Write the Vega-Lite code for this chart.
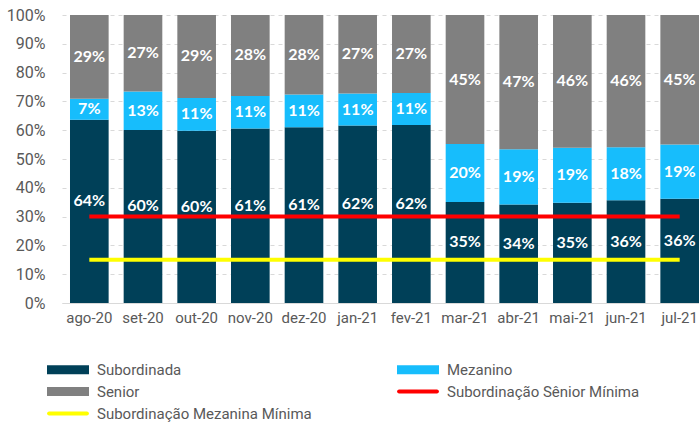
{
  "$schema": "https://vega.github.io/schema/vega-lite/v6.json",
  "width": 637,
  "height": 288,
  "autosize": {"type": "none"},
  "padding": {"left": 62, "top": 15, "right": 0, "bottom": 120},
  "background": "white",
  "config": {
    "view": {"stroke": null},
    "axis": {"labelFont": "Roboto", "labelColor": "#595959", "labelFontSize": 16, "title": null}
  },
  "resolve": {"axis": {"y": "independent"}},
  "datasets": {
    "barras": [
      {"mes": "ago-20", "serie": "Subordinada", "ordem": 1, "valor": 0.636},
      {"mes": "ago-20", "serie": "Mezanino", "ordem": 2, "valor": 0.073},
      {"mes": "ago-20", "serie": "Senior", "ordem": 3, "valor": 0.291},
      {"mes": "set-20", "serie": "Subordinada", "ordem": 1, "valor": 0.601},
      {"mes": "set-20", "serie": "Mezanino", "ordem": 2, "valor": 0.133},
      {"mes": "set-20", "serie": "Senior", "ordem": 3, "valor": 0.266},
      {"mes": "out-20", "serie": "Subordinada", "ordem": 1, "valor": 0.598},
      {"mes": "out-20", "serie": "Mezanino", "ordem": 2, "valor": 0.114},
      {"mes": "out-20", "serie": "Senior", "ordem": 3, "valor": 0.288},
      {"mes": "nov-20", "serie": "Subordinada", "ordem": 1, "valor": 0.606},
      {"mes": "nov-20", "serie": "Mezanino", "ordem": 2, "valor": 0.113},
      {"mes": "nov-20", "serie": "Senior", "ordem": 3, "valor": 0.281},
      {"mes": "dez-20", "serie": "Subordinada", "ordem": 1, "valor": 0.610},
      {"mes": "dez-20", "serie": "Mezanino", "ordem": 2, "valor": 0.114},
      {"mes": "dez-20", "serie": "Senior", "ordem": 3, "valor": 0.276},
      {"mes": "jan-21", "serie": "Subordinada", "ordem": 1, "valor": 0.616},
      {"mes": "jan-21", "serie": "Mezanino", "ordem": 2, "valor": 0.111},
      {"mes": "jan-21", "serie": "Senior", "ordem": 3, "valor": 0.273},
      {"mes": "fev-21", "serie": "Subordinada", "ordem": 1, "valor": 0.618},
      {"mes": "fev-21", "serie": "Mezanino", "ordem": 2, "valor": 0.111},
      {"mes": "fev-21", "serie": "Senior", "ordem": 3, "valor": 0.271},
      {"mes": "mar-21", "serie": "Subordinada", "ordem": 1, "valor": 0.351},
      {"mes": "mar-21", "serie": "Mezanino", "ordem": 2, "valor": 0.201},
      {"mes": "mar-21", "serie": "Senior", "ordem": 3, "valor": 0.448},
      {"mes": "abr-21", "serie": "Subordinada", "ordem": 1, "valor": 0.342},
      {"mes": "abr-21", "serie": "Mezanino", "ordem": 2, "valor": 0.192},
      {"mes": "abr-21", "serie": "Senior", "ordem": 3, "valor": 0.466},
      {"mes": "mai-21", "serie": "Subordinada", "ordem": 1, "valor": 0.348},
      {"mes": "mai-21", "serie": "Mezanino", "ordem": 2, "valor": 0.191},
      {"mes": "mai-21", "serie": "Senior", "ordem": 3, "valor": 0.461},
      {"mes": "jun-21", "serie": "Subordinada", "ordem": 1, "valor": 0.357},
      {"mes": "jun-21", "serie": "Mezanino", "ordem": 2, "valor": 0.184},
      {"mes": "jun-21", "serie": "Senior", "ordem": 3, "valor": 0.459},
      {"mes": "jul-21", "serie": "Subordinada", "ordem": 1, "valor": 0.362},
      {"mes": "jul-21", "serie": "Mezanino", "ordem": 2, "valor": 0.188},
      {"mes": "jul-21", "serie": "Senior", "ordem": 3, "valor": 0.450}
    ],
    "minimos": [
      {"mes": "ago-20", "serie": "Subordinação Sênior Mínima", "valor": 0.30},
      {"mes": "set-20", "serie": "Subordinação Sênior Mínima", "valor": 0.30},
      {"mes": "out-20", "serie": "Subordinação Sênior Mínima", "valor": 0.30},
      {"mes": "nov-20", "serie": "Subordinação Sênior Mínima", "valor": 0.30},
      {"mes": "dez-20", "serie": "Subordinação Sênior Mínima", "valor": 0.30},
      {"mes": "jan-21", "serie": "Subordinação Sênior Mínima", "valor": 0.30},
      {"mes": "fev-21", "serie": "Subordinação Sênior Mínima", "valor": 0.30},
      {"mes": "mar-21", "serie": "Subordinação Sênior Mínima", "valor": 0.30},
      {"mes": "abr-21", "serie": "Subordinação Sênior Mínima", "valor": 0.30},
      {"mes": "mai-21", "serie": "Subordinação Sênior Mínima", "valor": 0.30},
      {"mes": "jun-21", "serie": "Subordinação Sênior Mínima", "valor": 0.30},
      {"mes": "jul-21", "serie": "Subordinação Sênior Mínima", "valor": 0.30},
      {"mes": "ago-20", "serie": "Subordinação Mezanina Mínima", "valor": 0.15},
      {"mes": "set-20", "serie": "Subordinação Mezanina Mínima", "valor": 0.15},
      {"mes": "out-20", "serie": "Subordinação Mezanina Mínima", "valor": 0.15},
      {"mes": "nov-20", "serie": "Subordinação Mezanina Mínima", "valor": 0.15},
      {"mes": "dez-20", "serie": "Subordinação Mezanina Mínima", "valor": 0.15},
      {"mes": "jan-21", "serie": "Subordinação Mezanina Mínima", "valor": 0.15},
      {"mes": "fev-21", "serie": "Subordinação Mezanina Mínima", "valor": 0.15},
      {"mes": "mar-21", "serie": "Subordinação Mezanina Mínima", "valor": 0.15},
      {"mes": "abr-21", "serie": "Subordinação Mezanina Mínima", "valor": 0.15},
      {"mes": "mai-21", "serie": "Subordinação Mezanina Mínima", "valor": 0.15},
      {"mes": "jun-21", "serie": "Subordinação Mezanina Mínima", "valor": 0.15},
      {"mes": "jul-21", "serie": "Subordinação Mezanina Mínima", "valor": 0.15}
    ]
  },
  "encoding": {
    "x": {
      "field": "mes", "type": "nominal", "sort": null,
      "scale": {"range": [0, 645], "paddingInner": 0.28, "paddingOuter": 0.149},
      "axis": {"labelAngle": 0, "ticks": false, "domain": true, "domainColor": "#d9d9d9", "labelPadding": 7, "grid": false, "labelFontSize": 15}
    }
  },
  "layer": [
    {
      "data": {"name": "barras"},
      "mark": {"type": "bar"},
      "encoding": {
        "y": {
          "field": "valor", "type": "quantitative", "stack": "zero",
          "scale": {"domain": [0, 1], "nice": false},
          "axis": {"values": [0, 0.1, 0.2, 0.3, 0.4, 0.5, 0.6, 0.7, 0.8, 0.9, 1.0], "format": ".0%", "labelOverlap": false, "grid": true, "gridColor": "#d9d9d9", "gridDash": [4, 4], "domain": false, "ticks": false, "labelPadding": 17, "labelFontSize": 16}
        },
        "color": {
          "field": "serie", "type": "nominal",
          "scale": {
            "domain": ["Subordinada", "Mezanino", "Senior", "Subordinação Sênior Mínima", "Subordinação Mezanina Mínima"],
            "range": ["#004058", "#17bdfc", "#808080", "#ff0000", "#ffff00"]
          },
          "legend": {
            "title": null,
            "orient": "none",
            "direction": "horizontal",
            "legendX": -15,
            "legendY": 347,
            "columns": 2,
            "columnPadding": 79,
            "rowPadding": 5,
            "symbolSize": 1764,
            "labelOffset": 8,
            "labelFont": "Roboto",
            "labelFontSize": 15,
            "labelColor": "#595959",
            "labelLimit": 400,
            "encode": {
              "symbols": {
                "update": {
                  "x": {"value": 21},
                  "shape": {"signal": "indexof(['Subordinação Sênior Mínima','Subordinação Mezanina Mínima'], datum.value) >= 0 ? 'M-0.9,0H0.9' : 'M-1,-0.214H1V0.214H-1Z'"},
                  "fill": {"scale": "color", "field": "value"},
                  "stroke": {"scale": "color", "field": "value"},
                  "fillOpacity": {"signal": "indexof(['Subordinação Sênior Mínima','Subordinação Mezanina Mínima'], datum.value) >= 0 ? 0 : 1"},
                  "strokeWidth": {"signal": "indexof(['Subordinação Sênior Mínima','Subordinação Mezanina Mínima'], datum.value) >= 0 ? 4 : 0"},
                  "strokeCap": {"value": "round"},
                  "opacity": {"value": 1}
                }
              },
              "labels": {
                "update": {"x": {"value": 50}}
              }
            }
          }
        },
        "order": {"field": "ordem", "type": "quantitative"}
      }
    },
    {
      "data": {"name": "barras"},
      "transform": [
        {"stack": "valor", "groupby": ["mes"], "sort": [{"field": "ordem", "order": "ascending"}], "as": ["y0", "y1"]},
        {"calculate": "(datum.y0 + datum.y1) / 2", "as": "meio"},
        {"filter": "datum.serie != 'Subordinada'"}
      ],
      "mark": {"type": "text", "color": "white", "font": "Lato", "fontWeight": "bold", "fontSize": 16, "baseline": "middle", "align": "center"},
      "encoding": {
        "y": {"field": "meio", "type": "quantitative", "axis": null},
        "text": {"field": "valor", "type": "quantitative", "format": ".0%"}
      }
    },
    {
      "data": {"name": "barras"},
      "transform": [
        {"stack": "valor", "groupby": ["mes"], "sort": [{"field": "ordem", "order": "ascending"}], "as": ["y0", "y1"]},
        {"calculate": "(datum.y0 + datum.y1) / 2", "as": "meio"},
        {"filter": "datum.serie == 'Subordinada'"}
      ],
      "mark": {"type": "text", "color": "white", "font": "Lato", "fontWeight": "bold", "fontSize": 16, "baseline": "middle", "align": "center", "dy": -10},
      "encoding": {
        "y": {"field": "meio", "type": "quantitative", "axis": null},
        "text": {"field": "valor", "type": "quantitative", "format": ".0%"}
      }
    },
    {
      "data": {"name": "minimos"},
      "mark": {"type": "line", "strokeWidth": 4},
      "encoding": {
        "y": {"field": "valor", "type": "quantitative", "axis": null},
        "color": {"field": "serie", "type": "nominal"}
      }
    }
  ]
}
